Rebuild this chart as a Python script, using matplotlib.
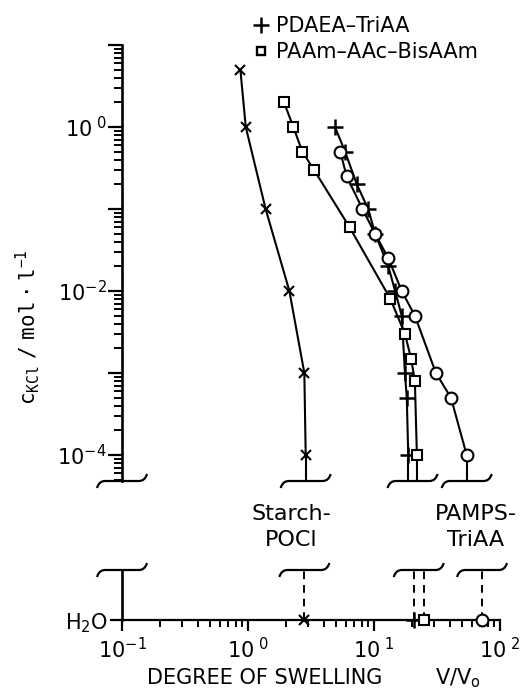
"""
Swelling degree of hydrogels vs KCl concentration (log-log, broken axis for pure water)
"""

import matplotlib
matplotlib.use("Agg")
import matplotlib.pyplot as plt
from matplotlib.lines import Line2D
from matplotlib.path import Path
from matplotlib.patches import PathPatch
from matplotlib.ticker import LogLocator, FuncFormatter, NullFormatter
import numpy as np

W, H, DPI = 520, 691, 100

# c_KCl (mol/l) and degree of swelling V/V0
starch_c = [5, 1, 0.1, 0.01, 0.001, 0.0001]
starch_q = [0.87, 0.96, 1.38, 2.13, 2.8, 2.87]
starch_h2o = 2.8

pdaea_c = [1, 0.5, 0.2, 0.1, 0.05, 0.02, 0.01, 0.005, 0.001, 0.0005, 0.0001]
pdaea_q = [4.9, 5.9, 7.3, 9.0, 10.2, 13.0, 14.7, 16.6, 17.6, 18.2, 18.7]
pdaea_h2o = 20.7

paam_c = [2, 1, 0.5, 0.3, 0.06, 0.008, 0.003, 0.0015, 0.0008, 0.0001]
paam_q = [1.93, 2.29, 2.7, 3.34, 6.4, 13.5, 17.6, 19.7, 21.1, 21.9]
paam_h2o = 24.8

pamps_c = [0.5, 0.25, 0.1, 0.05, 0.025, 0.01, 0.005, 0.001, 0.0005, 0.0001]
pamps_q = [5.4, 6.07, 8.1, 10.2, 13.0, 16.6, 21.1, 31.0, 40.8, 54.4]
pamps_h2o = 72

STYLE = {
    "starch": dict(marker="x", ms=7, mew=1.5, mfc="none"),
    "pdaea":  dict(marker="+", ms=12, mew=1.8, mfc="none"),
    "paam":   dict(marker="s", ms=7, mew=1.5, mfc="white"),
    "pamps":  dict(marker="o", ms=8.5, mew=1.5, mfc="white"),
}
LW = 1.5
FONT = "DejaVu Sans"


def pow_label(v, pos):
    e = int(round(np.log10(v)))
    if e < 0:
        return r"$\mathregular{10^{%d}}$" % e
    return r"$\mathregular{10^{\ %d}}$" % e


def even_label(v, pos):
    e = int(round(np.log10(v)))
    if e % 2:
        return ""
    return pow_label(v, pos)


def bracket(fig, cx, cy, half=25):
    # broken-axis mark, cx/cy in figure pixels (cy from top)
    x0, y0 = cx / DPI, (H - cy) / DPI
    d = 1.0 / DPI
    verts = [(x0 - half * d, y0 - 7 * d), (x0 - (half - 2) * d, y0), (x0 - (half - 8) * d, y0),
             (x0 + (half - 8) * d, y0),
             (x0 + (half - 2) * d, y0), (x0 + half * d, y0 + 7 * d)]
    codes = [Path.MOVETO, Path.CURVE3, Path.CURVE3, Path.LINETO, Path.CURVE3, Path.CURVE3]
    fig.add_artist(PathPatch(Path(verts, codes), fill=False, lw=1.6, ec="black",
                             transform=fig.dpi_scale_trans))


def to_px(ax, x, y):
    dx, dy = ax.transData.transform((x, y))
    return dx, H - dy


fig = plt.figure(figsize=(W / DPI, H / DPI), dpi=DPI)
plt.rcParams["font.family"] = FONT

Y_TOP, Y_BRK, Y_LOW_TOP, Y_H2O = 45, 481, 570, 620
X_L, X_R = 122, 500

ax = fig.add_axes([X_L / W, 1 - Y_BRK / H, (X_R - X_L) / W, (Y_BRK - Y_TOP) / H])
ax2 = fig.add_axes([X_L / W, 1 - Y_H2O / H, (X_R - X_L) / W, (Y_H2O - Y_LOW_TOP) / H])

ymin = 10 ** (1 - (Y_BRK - Y_TOP) / 82.0)
for a in (ax, ax2):
    a.set_xscale("log")
    a.set_xlim(0.1, 100)
    a.set_facecolor("none")
    for s in ("top", "right"):
        a.spines[s].set_visible(False)
    a.spines["left"].set_linewidth(1.9)

ax.set_yscale("log")
ax.set_ylim(ymin, 10)
ax.spines["bottom"].set_visible(False)
ax.tick_params(axis="x", which="both", bottom=False, labelbottom=False)
ax.yaxis.set_major_locator(LogLocator(base=10, numticks=20))
ax.yaxis.set_minor_locator(LogLocator(base=10, subs=np.arange(2, 10), numticks=20))
ax.yaxis.set_major_formatter(FuncFormatter(even_label))
ax.yaxis.set_minor_formatter(NullFormatter())
ax.tick_params(axis="y", which="major", direction="out", length=10, width=1.6,
               labelsize=15, pad=1)
ax.tick_params(axis="y", which="minor", direction="out", length=6, width=1.4)

series = [
    ("starch", starch_c, starch_q, starch_h2o),
    ("pdaea", pdaea_c, pdaea_q, pdaea_h2o),
    ("paam", paam_c, paam_q, paam_h2o),
    ("pamps", pamps_c, pamps_q, pamps_h2o),
]

for key, c, q, h2o in series:
    st = STYLE[key]
    ax.plot(q, c, color="black", lw=LW, mec="black", zorder=3, **st)
    ax.plot([q[-1], q[-1]], [c[-1], ymin], color="black", lw=LW, zorder=2)
    ax2.plot([h2o, h2o], [0, 1], color="black", lw=1.4, ls=(0, (4, 3)), zorder=2)
    ax2.plot([h2o], [0], color="black", ls="none", mec="black", clip_on=False, zorder=5, **st)

ax2.set_ylim(0, 1)
ax2.spines["bottom"].set_linewidth(1.6)
ax2.set_yticks([0])
ax2.set_yticklabels(["H$_2$O"])
ax2.tick_params(axis="y", direction="out", length=9, width=1.6, labelsize=15, pad=1)
ax2.xaxis.set_major_locator(LogLocator(base=10, numticks=10))
ax2.xaxis.set_minor_locator(LogLocator(base=10, subs=np.arange(2, 10), numticks=10))
ax2.xaxis.set_major_formatter(FuncFormatter(pow_label))
ax2.xaxis.set_minor_formatter(NullFormatter())
ax2.tick_params(axis="x", which="major", direction="out", length=8, width=1.6,
                labelsize=15, pad=4)
ax2.tick_params(axis="x", which="minor", direction="out", length=5, width=1.4)

# broken-axis marks
bracket(fig, X_L, Y_BRK)
bracket(fig, X_L, Y_LOW_TOP)
up_centres = [starch_q[-1], np.sqrt(pdaea_q[-1] * paam_q[-1]), pamps_q[-1]]
low_centres = [starch_h2o, np.sqrt(pdaea_h2o * paam_h2o), pamps_h2o]
for xc in up_centres:
    bracket(fig, to_px(ax, xc, 1)[0], Y_BRK)
for xc in low_centres:
    bracket(fig, to_px(ax2, xc, 0)[0], Y_LOW_TOP)

fig.text(291 / W, 1 - 527 / H, "Starch-\nPOCl", ha="center", va="center",
         fontsize=16, linespacing=1.4, multialignment="center")
fig.text(476 / W, 1 - 527 / H, "PAMPS-\nTriAA", ha="center", va="center",
         fontsize=16, linespacing=1.4, multialignment="center")

fig.text(28 / W, 1 - 327 / H, r"$\mathregular{c_{KCl}\ /\ mol\cdot l^{-1}}$",
         rotation=90, ha="center", va="center", fontsize=15, family="DejaVu Sans Mono")
fig.text(265 / W, 1 - 678 / H, "DEGREE OF SWELLING", ha="center", va="center", fontsize=15)
fig.text(458 / W, 1 - 678 / H, r"V/V$_\mathregular{o}$", ha="center", va="center", fontsize=15)

handles = [
    Line2D([], [], color="black", ls="none", **STYLE["pdaea"]),
    Line2D([], [], color="black", ls="none", marker="s", ms=6, mew=1.7, mfc="white"),
]
fig.legend(handles, ["PDAEA\u2013TriAA", "PAAm\u2013AAc\u2013BisAAm"],
           loc="center left", bbox_to_anchor=(254 / W, 1 - 39 / H), frameon=False,
           fontsize=15, handlelength=0.7, handletextpad=0.35, borderpad=0,
           borderaxespad=0, labelspacing=0.3)

fig.savefig("out.png", dpi=DPI)
